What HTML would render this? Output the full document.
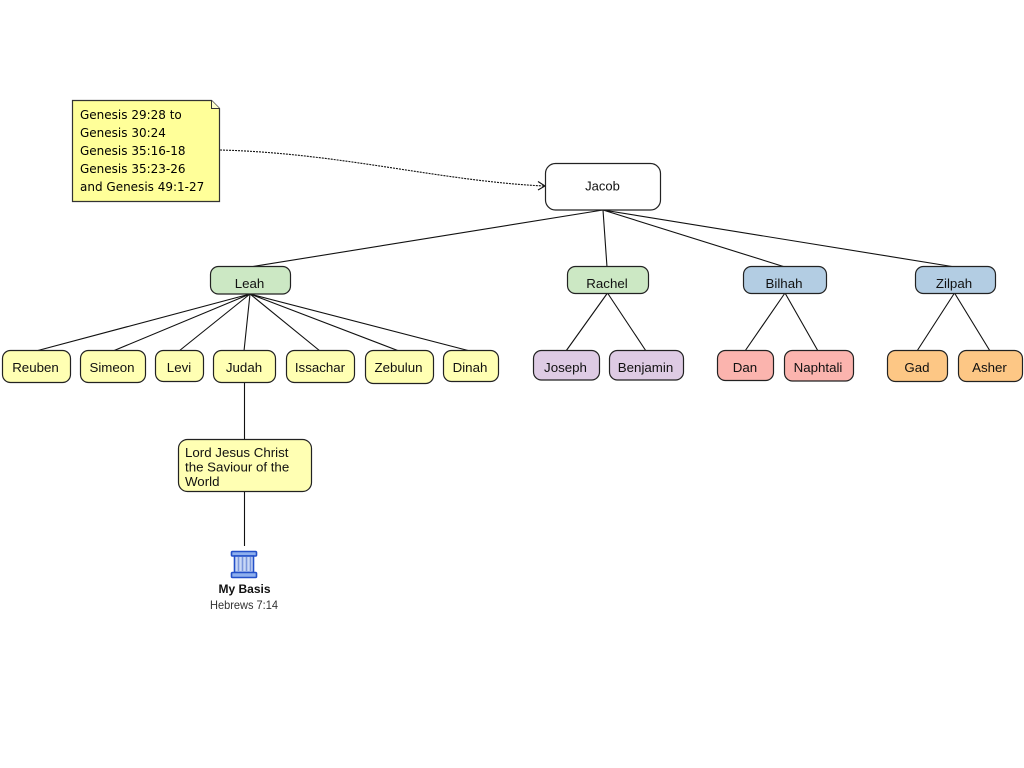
<!DOCTYPE html>
<html lang="en">
<head>
<meta charset="utf-8">
<title>Jacob family diagram</title>
<style>
html,body{margin:0;padding:0;background:#fff;width:1024px;height:768px;overflow:hidden}
svg{display:block}
text{font-family:"Liberation Sans",Arial,sans-serif;font-size:13.3px;fill:#111}
.c{text-anchor:middle}
.n{stroke:#222;stroke-width:1.2}
.l{stroke:#111;stroke-width:1.1;fill:none}
.note{font-family:"DejaVu Sans",sans-serif;font-size:12px;fill:#000}
</style>
</head>
<body>
<svg width="1024" height="768" viewBox="0 0 1024 768" xmlns="http://www.w3.org/2000/svg">
<g class="l">
<path d="M603 210L250 267M603 210L607 267M603 210L785 267M603 210L955 267"/>
<path d="M250 294L36 351M250 294L113 351M250 294L179 351M250 294L244 351M250 294L320 351M250 294L399 351M250 294L470 351"/>
<path d="M607.500 293L566 351M607.500 293L646 351M785 293L745 351M785 293L818 351M954.500 293L917 351M954.500 293L990 351"/>
<path d="M244.500 382V440M244.500 491V546"/>
<path d="M220 150C340 153 440 181 544 186" stroke-dasharray="2 1"/>
<path d="M538 181.500L545 186L538 190"/>
</g>

<path d="M72.500 100.500H211.500L219.500 108.500V201.500H72.500Z" fill="#ffff99" stroke="#333" stroke-width="1.2"/>
<path d="M211.500 100.500V108.500H219.500" fill="#ffffcc" stroke="#333"/>
<g class="note">
<text class="note" x="80" y="119">Genesis 29:28 to</text>
<text class="note" x="80" y="137">Genesis 30:24</text>
<text class="note" x="80" y="155">Genesis 35:16-18</text>
<text class="note" x="80" y="173">Genesis 35:23-26</text>
<text class="note" x="80" y="191">and Genesis 49:1-27</text>
</g>

<rect class="n" x="545.500" y="163.500" width="115" height="46.500" rx="10" fill="#fff"/>
<text class="c" x="602.500" y="190.500" style="font-size:13px">Jacob</text>

<g class="n">
<rect x="210.500" y="266.500" width="80" height="27.500" rx="8" fill="#cce8c4"/>
<rect x="567.500" y="266.500" width="81" height="27" rx="8" fill="#cce8c4"/>
<rect x="743.500" y="266.500" width="83" height="27" rx="8" fill="#b3cde3"/>
<rect x="915.500" y="266.500" width="80" height="27" rx="8" fill="#b3cde3"/>
<rect x="2.500" y="350.500" width="68" height="32" rx="8" fill="#ffffb3"/>
<rect x="80.500" y="350.500" width="65" height="32" rx="8" fill="#ffffb3"/>
<rect x="155.500" y="350.500" width="48" height="31" rx="8" fill="#ffffb3"/>
<rect x="213.500" y="350.500" width="62" height="32" rx="8" fill="#ffffb3"/>
<rect x="286.500" y="350.500" width="68" height="32" rx="8" fill="#ffffb3"/>
<rect x="365.500" y="350.500" width="68" height="33" rx="8" fill="#ffffb3"/>
<rect x="443.500" y="350.500" width="55" height="31" rx="8" fill="#ffffb3"/>
<rect x="533.500" y="350.500" width="66" height="29.500" rx="8" fill="#decbe4"/>
<rect x="609.500" y="350.500" width="74" height="29.500" rx="8" fill="#decbe4"/>
<rect x="717.500" y="350.500" width="56" height="30" rx="8" fill="#fbb4ae"/>
<rect x="784.500" y="350.500" width="69" height="30.500" rx="8" fill="#fbb4ae"/>
<rect x="887.500" y="350.500" width="60" height="31" rx="8" fill="#fdc785"/>
<rect x="958.500" y="350.500" width="64" height="31" rx="8" fill="#fdc785"/>
<rect x="178.500" y="439.500" width="133" height="52" rx="9" fill="#ffffb3"/>
</g>

<text class="c" x="249.500" y="288">Leah</text>
<text class="c" x="607" y="288">Rachel</text>
<text class="c" x="784" y="288">Bilhah</text>
<text class="c" x="954" y="288">Zilpah</text>
<text class="c" x="35.500" y="372">Reuben</text>
<text class="c" x="112" y="372">Simeon</text>
<text class="c" x="179" y="372">Levi</text>
<text class="c" x="244" y="372">Judah</text>
<text class="c" x="320" y="372">Issachar</text>
<text class="c" x="398.500" y="372">Zebulun</text>
<text class="c" x="470" y="372">Dinah</text>
<text class="c" x="565.500" y="372">Joseph</text>
<text class="c" x="645.500" y="372">Benjamin</text>
<text class="c" x="745" y="372">Dan</text>
<text class="c" x="818" y="372">Naphtali</text>
<text class="c" x="917" y="372">Gad</text>
<text class="c" x="989.500" y="372">Asher</text>
<text x="185" y="457">Lord Jesus Christ</text>
<text x="185" y="471.500">the Saviour of the</text>
<text x="185" y="486">World</text>

<g stroke="#2450c8" stroke-width="1.6">
<rect x="231.500" y="551.500" width="25" height="4.500" rx="1" fill="#8fb0ee"/>
<rect x="234.500" y="556" width="19" height="16.500" fill="#c9d8f6"/>
<rect x="231.500" y="572.500" width="25" height="5" rx="1" fill="#8fb0ee"/>
</g>
<path d="M238.500 557V571M242.500 557V571M246.500 557V571M250.500 557V571" stroke="#7a96dc" stroke-width="1.600"/>

<text class="c" x="244.500" y="593" style="font-size:12px;font-weight:bold">My Basis</text>
<text class="c" x="244" y="609" style="font-size:12px;fill:#333" textLength="68" lengthAdjust="spacingAndGlyphs">Hebrews 7:14</text>
</svg>
</body>
</html>
